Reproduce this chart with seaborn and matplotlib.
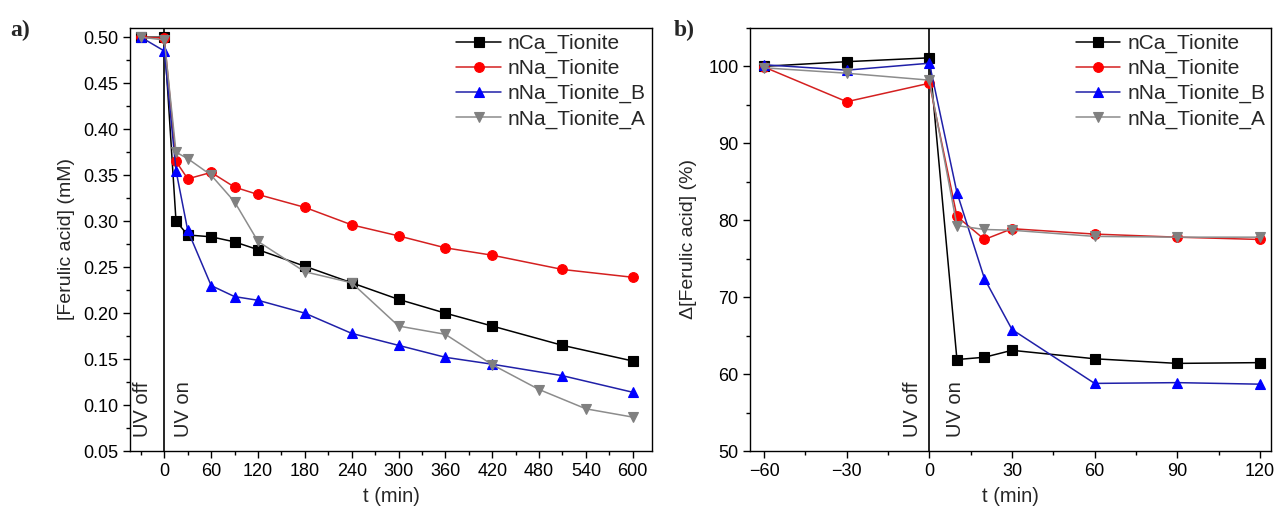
import numpy as np
import pandas as pd
import matplotlib
matplotlib.use("Agg")
import matplotlib.pyplot as plt
import matplotlib.transforms as mtransforms
from matplotlib.ticker import MultipleLocator, FormatStrFormatter
import seaborn as sns

# ---- data, panel a: concentration vs time ----
t_a = [-30, 0, 15, 30, 60, 90, 120, 180, 240, 300, 360, 420, 510, 600]
t_a_gray = [-30, 0, 15, 30, 60, 90, 120, 180, 240, 300, 360, 420, 480, 540, 600]
ca_a = [0.500, 0.500, 0.300, 0.285, 0.283, 0.2775, 0.269, 0.251, 0.233, 0.215, 0.200, 0.186, 0.165, 0.148]
na_a = [0.500, 0.499, 0.365, 0.346, 0.353, 0.337, 0.329, 0.315, 0.296, 0.284, 0.271, 0.263, 0.2475, 0.239]
nab_a = [0.500, 0.485, 0.355, 0.290, 0.230, 0.218, 0.214, 0.200, 0.178, 0.165, 0.152, 0.1445, 0.132, 0.114]
naa_a = [0.500, 0.497, 0.375, 0.368, 0.350, 0.321, 0.278, 0.245, 0.233, 0.186, 0.177, 0.144, 0.117, 0.096, 0.087]

# ---- data, panel b: relative change vs time ----
t_b = [-60, -30, 0, 10, 20, 30, 60, 90, 120]
ca_b = [100.0, 100.6, 101.1, 61.9, 62.2, 63.1, 62.0, 61.4, 61.5]
na_b = [99.9, 95.4, 97.8, 80.5, 77.5, 78.9, 78.2, 77.8, 77.5]
nab_b = [100.2, 99.5, 100.4, 83.6, 72.4, 65.8, 58.8, 58.9, 58.7]
naa_b = [99.8, 99.1, 98.2, 79.3, 78.8, 78.7, 77.9, 77.8, 77.8]

names = ["nCa_Tionite", "nNa_Tionite", "nNa_Tionite_B", "nNa_Tionite_A"]
line_colors = ["black", "#d42020", "#2020a8", "#8c8c8c"]
marker_colors = ["black", "#ff0000", "#0000ff", "#808080"]
markers = ["s", "o", "^", "v"]

sns.set_style("ticks")
plt.rcParams["font.family"] = ["Liberation Sans", "DejaVu Sans"]
plt.rcParams["axes.linewidth"] = 1.0

fig = plt.figure(figsize=(12.74, 5.15), dpi=100)
ax1 = fig.add_axes([0.102, 0.124, 0.410, 0.822])
ax2 = fig.add_axes([0.589, 0.124, 0.409, 0.822])

series_a = [(t_a, ca_a), (t_a, na_a), (t_a, nab_a), (t_a_gray, naa_a)]
series_b = [(t_b, ca_b), (t_b, na_b), (t_b, nab_b), (t_b, naa_b)]

for ax, series in [(ax1, series_a), (ax2, series_b)]:
    for (x, y), name, lc, mc, m in zip(series, names, line_colors, marker_colors, markers):
        sns.lineplot(x=x, y=y, ax=ax, color=lc, marker=m, markersize=7,
                     markerfacecolor=mc, markeredgecolor=mc, markeredgewidth=0.8,
                     linewidth=1.1, label=name)
    ax.axvline(0, color="black", lw=1.2, zorder=1)
    ax.set_xlabel("t (min)", fontsize=14.5, labelpad=5)
    ax.tick_params(axis="both", which="major", direction="out", length=5, width=1.0,
                   labelsize=13, color="black", labelcolor="black")
    ax.tick_params(axis="both", which="minor", direction="out", length=2.8, width=1.0, color="black")
    for sp in ax.spines.values():
        sp.set_visible(True)
        sp.set_color("black")
    ax.legend(loc="upper right", frameon=False, fontsize=15, handlelength=2.15,
              handletextpad=0.33, labelspacing=0.28, borderpad=0.15, borderaxespad=0.15)
    trans = mtransforms.blended_transform_factory(ax.transData, ax.transAxes)
    if ax is ax1:
        ux_off, ux_on = -28, 24
    else:
        ux_off, ux_on = -6, 9.3
    ax.text(ux_off, 0.033, "UV off", rotation=90, ha="center", va="bottom",
            fontsize=14.5, transform=trans)
    ax.text(ux_on, 0.033, "UV on", rotation=90, ha="center", va="bottom",
            fontsize=14.5, transform=trans)

ax1.set_xlim(-44, 625)
ax1.set_ylim(0.05, 0.5102)
ax1.xaxis.set_major_locator(MultipleLocator(60))
ax1.xaxis.set_minor_locator(MultipleLocator(30))
ax1.yaxis.set_major_locator(MultipleLocator(0.05))
ax1.yaxis.set_minor_locator(MultipleLocator(0.025))
ax1.yaxis.set_major_formatter(FormatStrFormatter("%.2f"))
ax1.set_ylabel("[Ferulic acid] (mM)", fontsize=14, labelpad=6)

ax2.set_xlim(-65, 124.2)
ax2.set_ylim(50, 105)
ax2.xaxis.set_major_locator(MultipleLocator(30))
ax2.xaxis.set_minor_locator(MultipleLocator(15))
ax2.yaxis.set_major_locator(MultipleLocator(10))
ax2.yaxis.set_minor_locator(MultipleLocator(5))
ax2.set_ylabel("\u0394[Ferulic acid] (%)", fontsize=14, labelpad=8)

fig.text(0.008, 0.94, "a)", fontsize=17, fontweight="bold", family="Liberation Serif", va="center")
fig.text(0.529, 0.94, "b)", fontsize=17, fontweight="bold", family="Liberation Serif", va="center")

fig.savefig("out.png", dpi=100)
